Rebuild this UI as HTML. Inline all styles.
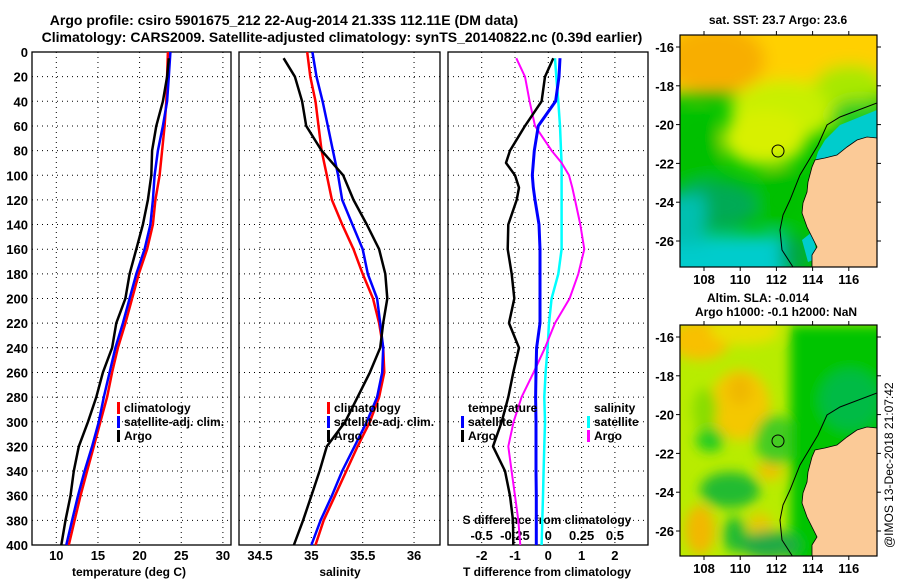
<!DOCTYPE html>
<html><head><meta charset="utf-8">
<style>
html,body{margin:0;padding:0;background:#fff;}
svg{display:block;font-family:"Liberation Sans",sans-serif;font-weight:bold;}
</style></head>
<body>
<svg id="fig" width="900" height="580" viewBox="0 0 900 580" xmlns="http://www.w3.org/2000/svg">
<defs>
<filter id="blur" x="-20%" y="-20%" width="140%" height="140%"><feGaussianBlur stdDeviation="8"/></filter>
<filter id="blur2" x="-20%" y="-20%" width="140%" height="140%"><feGaussianBlur stdDeviation="6"/></filter>
<clipPath id="clipTop"><rect x="680" y="35" width="197" height="232"/></clipPath>
<clipPath id="clipBot"><rect x="680" y="325" width="197" height="231"/></clipPath>
</defs>
<text x="284" y="25" font-size="14" text-anchor="middle">Argo profile: csiro 5901675_212 22-Aug-2014 21.33S 112.11E (DM data)</text>
<text x="342" y="42" font-size="14" text-anchor="middle">Climatology: CARS2009. Satellite-adjusted climatology: synTS_20140822.nc (0.39d earlier)</text>

<!-- top map -->
<g clip-path="url(#clipTop)">
<rect x="680" y="35" width="197" height="232" fill="#00c400"/>
<g filter="url(#blur)">
<rect x="660" y="15" width="240" height="80" fill="#ffd000"/>
<ellipse cx="715" cy="60" rx="50" ry="35" fill="#f8ae00"/>
<ellipse cx="785" cy="110" rx="55" ry="30" fill="#c8f000"/>
<ellipse cx="765" cy="138" rx="42" ry="28" fill="#d8f000"/>
<ellipse cx="850" cy="85" rx="35" ry="20" fill="#a8e800"/>
<ellipse cx="860" cy="115" rx="30" ry="15" fill="#22cc22"/>
<ellipse cx="698" cy="150" rx="22" ry="38" fill="#00c000"/>
<ellipse cx="715" cy="205" rx="45" ry="25" fill="#00aa55"/>
<ellipse cx="780" cy="200" rx="25" ry="30" fill="#00c000"/>
<rect x="660" y="235" width="125" height="50" fill="#00cccc"/>
<rect x="660" y="195" width="45" height="50" fill="#00c0b0"/>
<ellipse cx="795" cy="255" rx="15" ry="20" fill="#00a844"/>
</g>
<path d="M877,110 L840,125 L825,140 L818,152 L814,165 L877,150 Z" fill="#00cccc"/>
<path d="M802,240 L812,232 L818,258 L808,262 Z" fill="#00cccc"/>
<path d="M877,103 L840,117 L827,125 L818,145 L806,165 L800,175 L790,200 L783,215 L780,230 L782,250 L793,267" fill="none" stroke="#000" stroke-width="1"/>
<path d="M877,138 L867,137 L857,140 L847,147 L837,155 L825,158 L815,160 L812,167 L808,182 L807,192 L803,203 L802,213 L807,227 L817,247 L812,255 L812,267 L877,267 Z" fill="#fbca97" stroke="#000" stroke-width="0.8"/>
<circle cx="778" cy="151" r="6" fill="none" stroke="#000" stroke-width="1"/>
</g>
<rect x="680" y="35" width="197" height="232" fill="none" stroke="#000" stroke-width="1.2"/>
<text x="778" y="24" font-size="12" text-anchor="middle">sat. SST: 23.7 Argo: 23.6</text>

<!-- bottom map -->
<g clip-path="url(#clipBot)">
<rect x="680" y="325" width="197" height="231" fill="#b8ec00"/>
<g filter="url(#blur2)">
<ellipse cx="700" cy="340" rx="30" ry="20" fill="#f8c000"/>
<ellipse cx="745" cy="330" rx="35" ry="15" fill="#e8e000"/>
<ellipse cx="740" cy="405" rx="30" ry="35" fill="#f4c800"/>
<ellipse cx="740" cy="390" rx="12" ry="15" fill="#f0b800"/>
<ellipse cx="705" cy="410" rx="12" ry="22" fill="#88dd00"/>
<ellipse cx="710" cy="440" rx="14" ry="12" fill="#22cc22"/>
<ellipse cx="730" cy="490" rx="30" ry="18" fill="#22bb33"/>
<ellipse cx="770" cy="470" rx="12" ry="10" fill="#f4c000"/>
<ellipse cx="700" cy="530" rx="15" ry="25" fill="#f2b800"/>
<ellipse cx="735" cy="535" rx="12" ry="18" fill="#22bb33"/>
<ellipse cx="760" cy="525" rx="12" ry="12" fill="#e8c800"/>
<ellipse cx="775" cy="440" rx="20" ry="25" fill="#44cc22"/>
<rect x="790" y="325" width="100" height="240" fill="#00c400"/>
<ellipse cx="770" cy="545" rx="30" ry="14" fill="#22aa44"/>
<ellipse cx="850" cy="400" rx="30" ry="30" fill="#00bb44"/>
</g>
<path d="M877,393 L840,407 L827,415 L818,435 L806,455 L800,465 L790,490 L783,505 L780,520 L782,540 L793,557" fill="none" stroke="#000" stroke-width="1"/>
<path d="M877,428 L867,427 L857,430 L847,437 L837,445 L825,448 L815,450 L812,457 L808,472 L807,482 L803,493 L802,503 L807,517 L817,537 L812,545 L812,557 L877,557 Z" fill="#fbca97" stroke="#000" stroke-width="0.8"/>
<circle cx="778" cy="441" r="6" fill="none" stroke="#000" stroke-width="1"/>
</g>
<rect x="680" y="325" width="197" height="231" fill="none" stroke="#000" stroke-width="1.2"/>
<text x="758" y="302" font-size="12" text-anchor="middle">Altim. SLA: -0.014</text>
<text x="776" y="316" font-size="12" text-anchor="middle">Argo h1000: -0.1 h2000: NaN</text>
<text transform="translate(893,548) rotate(-90)" font-size="12" font-weight="normal">@IMOS 13-Dec-2018 21:07:42</text>
<g id="plots"></g>
</svg>
<script>
const depths = [0,20,40,60,80,100,120,140,160,180,200,220,240,260,280,300,320,340,360,380,400];
const tempClim = [23.4,23.3,23.2,23.0,22.7,22.4,21.9,21.6,20.9,19.9,19.1,18.3,17.4,16.7,16.1,15.3,14.5,13.7,12.9,12.2,11.5];
const tempSat  = [23.7,23.5,23.3,22.8,22.2,21.8,21.6,21.3,20.6,19.6,18.8,18.0,17.1,16.4,15.7,15.1,14.3,13.4,12.6,11.9,11.2];
const tempArgoDepths = [5,20,40,60,80,100,120,140,160,180,200,220,240,260,280,300,320,340,360,380,400];
const tempArgo = [23.5,23.3,22.8,22.0,21.5,21.4,21.0,20.4,19.6,18.8,18.3,17.2,16.7,15.6,14.8,13.8,12.7,12.1,11.7,11.1,10.6];
const salClim = [34.96,34.99,35.04,35.07,35.10,35.15,35.20,35.30,35.41,35.50,35.60,35.66,35.70,35.71,35.66,35.57,35.45,35.34,35.23,35.12,35.04];
const salSat  = [35.01,35.05,35.11,35.16,35.21,35.26,35.30,35.40,35.50,35.55,35.64,35.67,35.70,35.69,35.64,35.54,35.42,35.30,35.20,35.09,35.00];
const salArgo = [34.73,34.84,34.91,34.95,35.10,35.31,35.41,35.54,35.66,35.72,35.74,35.70,35.67,35.57,35.45,35.33,35.15,35.08,35.00,34.92,34.83];
const diffDepths = [5,20,40,60,80,90,100,110,120,140,160,180,200,220,240,260,280,300,320,340,360,380,400];
const dTempArgo = [0.15,-0.1,-0.2,-0.7,-1.15,-1.27,-1.0,-0.88,-0.95,-1.2,-1.22,-1.1,-1.02,-1.18,-0.88,-1.05,-1.2,-1.4,-1.66,-1.3,-1.15,-1.06,-1.05];
const dTempSat  = [0.35,0.32,0.22,-0.3,-0.42,-0.45,-0.48,-0.45,-0.4,-0.28,-0.25,-0.25,-0.25,-0.25,-0.35,-0.37,-0.38,-0.37,-0.37,-0.37,-0.36,-0.36,-0.36];
const dSalSat   = [0.05,0.06,0.075,0.088,0.095,0.1,0.1,0.1,0.1,0.1,0.1,0.075,0.025,0.005,-0.005,-0.02,-0.03,-0.025,-0.03,-0.035,-0.04,-0.045,-0.05];
const dSalArgo  = [-0.24,-0.175,-0.14,-0.1,0.025,0.1,0.155,0.18,0.2,0.24,0.27,0.225,0.16,0.05,-0.025,-0.11,-0.2,-0.26,-0.3,-0.275,-0.25,-0.225,-0.21];
const depthTicks = [0,20,40,60,80,100,120,140,160,180,200,220,240,260,280,300,320,340,360,380,400];
const tempTicks = [10,15,20,25,30];
const salTicks = ["34.5","35","35.5","36"];
const dTTicks = ["-2","-1","0","1","2"];
const dSTicks = ["-0.5","-0.25","0","0.25","0.5"];

const NS="http://www.w3.org/2000/svg";
const root=document.getElementById('plots');
function mk(tag,attrs,parent){const e=document.createElementNS(NS,tag);for(const k in attrs)e.setAttribute(k,attrs[k]);(parent||root).appendChild(e);return e;}
const yD=d=>52+d*1.2325;
const xT=t=>56.3+(t-10)*8.33;
const xS=s=>260+(s-34.5)*102.7;
const xDT=v=>548.3+v*33.3;
const xDS=v=>548.3+v*133.3;
const panels=[{x0:32,x1:231,name:'temperature-panel'},{x0:239,x1:440,name:'salinity-panel'},{x0:448,x1:648,name:'difference-panel'}];

function grid(p,xs){
  const g=mk('g',{});
  
  
  depthTicks.forEach(d=>{if(d>0&&d<400){mk('line',{x1:p.x0,x2:p.x1,y1:yD(d),y2:yD(d),stroke:'#000','stroke-width':1,'stroke-dasharray':'1,4'},g);}});
  xs.forEach(x=>{mk('line',{x1:x,x2:x,y1:yD(0),y2:yD(400),stroke:'#000','stroke-width':1,'stroke-dasharray':'1,4'},g);});
  const r=mk('rect',{x:p.x0,y:yD(0),width:p.x1-p.x0,height:yD(400)-yD(0),fill:'none',stroke:'#000','stroke-width':1.3});
  
  
}
grid(panels[0],tempTicks.map(xT));
grid(panels[1],salTicks.map(s=>xS(+s)));
grid(panels[2],dTTicks.map(s=>xDT(+s)));

depthTicks.forEach(d=>{
  const t=mk('text',{x:28,y:yD(d)+5,'font-size':13,'text-anchor':'end'});
  t.textContent=d;
  
  
});
function xlabels(ticks,fx,y,fs){ticks.forEach(v=>{const t=mk('text',{x:fx(+v),y:y,'font-size':fs,'text-anchor':'middle'});t.textContent=v;
  
  });}
xlabels(tempTicks,xT,560,13);
xlabels(salTicks,v=>xS(v),560,13);
xlabels(dTTicks,v=>xDT(v),560,13);
xlabels(dSTicks,v=>xDS(v),540,13);
function label(txt,x,y,name,anchor){const t=mk('text',{x:x,y:y,'font-size':12,'text-anchor':anchor||'middle'});t.textContent=txt;
  
  return t;}
label('temperature (deg C)',129,576,'temperature-axis-title');
label('salinity',340,576,'salinity-axis-title');
label('T difference from climatology',547,576,'t-diff-axis-title');
label('S difference from climatology',547,524,'s-diff-axis-title');

function line(xs,ds,fx,color,name,w){
  const pts=xs.map((v,i)=>fx(v).toFixed(1)+','+yD(ds[i]).toFixed(1)).join(' ');
  const pl=mk('polyline',{points:pts,fill:'none',stroke:color,'stroke-width':w||2.5,'stroke-linejoin':'round'});
  
  
}
line(tempClim,depths,xT,'#ff0000','temp-climatology-line');
line(tempSat,depths,xT,'#0000ff','temp-satellite-line');
line(tempArgo,tempArgoDepths,xT,'#000000','temp-argo-line');
line(salClim,depths,xS,'#ff0000','sal-climatology-line');
line(salSat,depths,xS,'#0000ff','sal-satellite-line');
line(salArgo,tempArgoDepths,xS,'#000000','sal-argo-line');
line(dSalSat,diffDepths,xDS,'#00ffff','dsal-satellite-line');
line(dSalArgo,diffDepths,xDS,'#ff00ff','dsal-argo-line',2);
line(dTempSat,diffDepths,xDT,'#0000ff','dtemp-satellite-line',3);
line(dTempArgo,diffDepths,xDT,'#000000','dtemp-argo-line');

function legend(x,y,items,name){
  items.forEach((it,i)=>{
    const b=mk('rect',{x:x,y:y+i*14-10,width:3,height:12,fill:it[1]});
    
    
    label(it[0],x+7,y+i*14,name+'-label','start');
  });
}
legend(117,412,[['climatology','#ff0000'],['satellite-adj. clim.','#0000ff'],['Argo','#000000']],'temp-legend');
legend(327,412,[['climatology','#ff0000'],['satellite-adj. clim.','#0000ff'],['Argo','#000000']],'sal-legend');
label('temperature',468,412,'dtemp-legend-title','start');
legend(461,426,[['satellite','#0000ff'],['Argo','#000000']],'dtemp-legend');
label('salinity',594,412,'dsal-legend-title','start');
legend(587,426,[['satellite','#00ffff'],['Argo','#ff00ff']],'dsal-legend');

const lonTicks=[108,110,112,114,116];
const latTicks=[-16,-18,-20,-22,-24,-26];
const xLon=l=>704+(l-108)*18.1;
[[47,35,267],[337,325,556]].forEach(([y16,top,bot],mi)=>{
  const yLat=l=>y16+(-16-l)*19.4;
  lonTicks.forEach(l=>{
    mk('line',{x1:xLon(l),x2:xLon(l),y1:top,y2:top-4,stroke:'#000'});
    mk('line',{x1:xLon(l),x2:xLon(l),y1:bot,y2:bot+4,stroke:'#000'});
    const t=mk('text',{x:xLon(l),y:bot+17,'font-size':13,'text-anchor':'middle'});t.textContent=l;
    
    
  });
  latTicks.forEach(l=>{
    mk('line',{x1:676,x2:680,y1:yLat(l),y2:yLat(l),stroke:'#000'});
    mk('line',{x1:877,x2:881,y1:yLat(l),y2:yLat(l),stroke:'#000'});
    const t=mk('text',{x:674,y:yLat(l)+5,'font-size':13,'text-anchor':'end'});t.textContent=l;
    
    
  });
});
</script>
</body></html>
